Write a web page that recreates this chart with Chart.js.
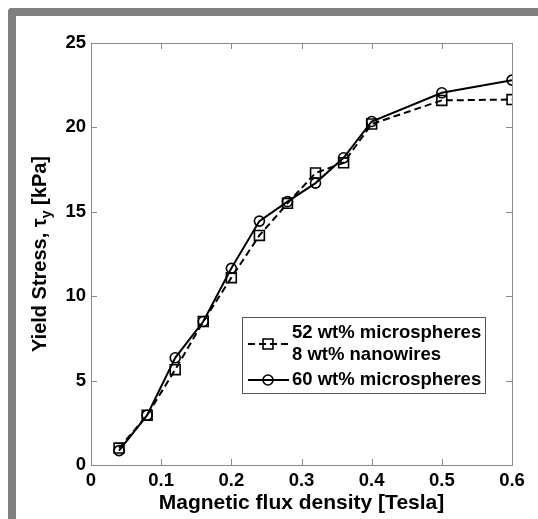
<!DOCTYPE html>
<html>
<head>
<meta charset="utf-8">
<script src="https://cdn.jsdelivr.net/npm/chart.js@4.4.1/dist/chart.umd.min.js"></script>
<style>
  html, body { margin: 0; padding: 0; background: #fff; overflow: hidden; }
  #wrap { position: relative; width: 538px; height: 519px; }
  #frame {
    position: absolute; left: 8px; top: 8px; width: 600px; height: 600px;
    border-left: 8px solid #808080; border-top: 8px solid #808080;
    border-top-left-radius: 4px; box-sizing: border-box;
  }
  #chart { position: absolute; left: 0; top: 0; }
</style>
</head>
<body>
<div id="wrap">
  <div id="frame"></div>
  <canvas id="chart" width="538" height="519"></canvas>
</div>
<script>
// DATA
const fluxTesla = [0.04, 0.08, 0.12, 0.16, 0.20, 0.24, 0.28, 0.32, 0.36, 0.40, 0.50, 0.60];
const stressMixed = [1.0, 2.95, 5.65, 8.5, 11.1, 13.6, 15.5, 17.3, 17.9, 20.2, 21.6, 21.65]; // 52% spheres + 8% wires
const stressSpheres = [0.85, 2.95, 6.35, 8.5, 11.65, 14.45, 15.6, 16.7, 18.2, 20.35, 22.05, 22.8]; // 60% spheres
const xTicks = [0, 0.1, 0.2, 0.3, 0.4, 0.5, 0.6];
const yTicks = [0, 5, 10, 15, 20, 25];
const legendMixed = ['52 wt% microspheres', '8 wt% nanowires'];
const legendSpheres = ['60 wt% microspheres'];

const FONT = '"Liberation Sans", Arial, sans-serif';
const AXIS_GREY = '#8a8a8a';

function toPoints(xs, ys) {
    return xs.map((x, i) => ({ x: x, y: ys[i] }));
}

// frame, inward ticks, titles, legend
const matlabLook = {
    id: 'matlabLook',
    beforeDatasetsDraw(chart) {
        const ctx = chart.ctx;
        const a = chart.chartArea;
        const sx = chart.scales.x, sy = chart.scales.y;
        ctx.save();
        ctx.strokeStyle = AXIS_GREY;
        ctx.lineWidth = 1;
        ctx.strokeRect(a.left + 0.5, a.top + 0.5, a.right - a.left, a.bottom - a.top);
        ctx.beginPath();
        xTicks.forEach(v => {
            const px = Math.round(sx.getPixelForValue(v)) + 0.5;
            ctx.moveTo(px, a.bottom); ctx.lineTo(px, a.bottom - 6);
            ctx.moveTo(px, a.top); ctx.lineTo(px, a.top + 6);
        });
        yTicks.forEach(v => {
            const py = Math.round(sy.getPixelForValue(v)) + 0.5;
            ctx.moveTo(a.left, py); ctx.lineTo(a.left + 6, py);
            ctx.moveTo(a.right, py); ctx.lineTo(a.right - 6, py);
        });
        ctx.stroke();
        ctx.restore();
    },
    afterDraw(chart) {
        const ctx = chart.ctx;
        const a = chart.chartArea;
        ctx.save();
        ctx.fillStyle = '#000';

        // x title
        ctx.font = 'bold 21px ' + FONT;
        ctx.textAlign = 'center';
        ctx.textBaseline = 'middle';
        ctx.fillText('Magnetic flux density [Tesla]', (a.left + a.right) / 2, 503);

        // y title with subscript
        const p1 = 'Yield Stress, \u03c4', p2 = 'y', p3 = ' [kPa]';
        ctx.font = 'bold 20px ' + FONT;
        const w1 = ctx.measureText(p1).width, w3 = ctx.measureText(p3).width;
        ctx.font = 'bold 14px ' + FONT;
        const w2 = ctx.measureText(p2).width;
        const total = w1 + w2 + w3;
        ctx.translate(40, (a.top + a.bottom) / 2);
        ctx.rotate(-Math.PI / 2);
        ctx.textAlign = 'left';
        ctx.textBaseline = 'middle';
        let x0 = -total / 2;
        ctx.font = 'bold 20px ' + FONT;
        ctx.fillText(p1, x0, 0);
        ctx.font = 'bold 14px ' + FONT;
        ctx.fillText(p2, x0 + w1, 7);
        ctx.font = 'bold 20px ' + FONT;
        ctx.fillText(p3, x0 + w1 + w2, 0);
        ctx.setTransform(1, 0, 0, 1, 0, 0);

        // legend box
        const bx = 242, by = 317, bw = 243, bh = 76;
        ctx.fillStyle = '#fff';
        ctx.fillRect(bx, by, bw, bh);
        ctx.strokeStyle = '#555';
        ctx.lineWidth = 1;
        ctx.strokeRect(bx + 0.5, by + 0.5, bw, bh);

        const rows = [
            { ds: chart.data.datasets[0], lines: legendMixed, ys: [333, 355], sy: 344 },
            { ds: chart.data.datasets[1], lines: legendSpheres, ys: [380], sy: 380 }
        ];
        rows.forEach(r => {
            ctx.strokeStyle = '#000';
            ctx.lineWidth = r.ds.borderWidth;
            ctx.setLineDash(r.ds.borderDash || []);
            ctx.beginPath();
            ctx.moveTo(248, r.sy); ctx.lineTo(289, r.sy);
            ctx.stroke();
            ctx.setLineDash([]);
            ctx.lineWidth = r.ds.pointBorderWidth;
            ctx.fillStyle = 'rgba(0,0,0,0)';
            Chart.helpers.drawPoint(ctx, {
                pointStyle: r.ds.pointStyle, rotation: 0, radius: r.ds.pointRadius, borderWidth: r.ds.pointBorderWidth
            }, 268, r.sy);
            ctx.fillStyle = '#000';
            ctx.font = 'bold 18.5px ' + FONT;
            ctx.textAlign = 'left';
            ctx.textBaseline = 'middle';
            r.lines.forEach((t, i) => ctx.fillText(t, 292, r.ys[i]));
        });
        ctx.restore();
    }
};

const chartCtx = document.getElementById('chart').getContext('2d');
const yieldChart = new Chart(chartCtx, {
    type: 'line',
    data: {
        datasets: [
            {
                label: legendMixed.join(' '),
                data: toPoints(fluxTesla, stressMixed),
                borderColor: '#000',
                borderWidth: 2,
                borderDash: [7, 4],
                pointStyle: 'rect',
                pointRadius: 7,
                pointBorderWidth: 1.6,
                pointBorderColor: '#000',
                pointBackgroundColor: 'rgba(0,0,0,0)',
                tension: 0
            },
            {
                label: legendSpheres[0],
                data: toPoints(fluxTesla, stressSpheres),
                borderColor: '#000',
                borderWidth: 2,
                pointStyle: 'circle',
                pointRadius: 5,
                pointBorderWidth: 1.6,
                pointBorderColor: '#000',
                pointBackgroundColor: 'rgba(0,0,0,0)',
                tension: 0
            }
        ]
    },
    options: {
        responsive: false,
        animation: false,
        layout: { padding: { left: 0, top: 43, right: 26, bottom: 0 } },
        plugins: {
            legend: { display: false },
            tooltip: { enabled: false }
        },
        scales: {
            x: {
                type: 'linear',
                min: 0,
                max: 0.6,
                afterBuildTicks(scale) { scale.ticks = xTicks.map(v => ({ value: v })); },
                afterFit(scale) { scale.height = 54; },
                grid: { display: false, drawTicks: false },
                border: { display: true, color: AXIS_GREY },
                ticks: {
                    padding: 5,
                    color: '#000',
                    font: { family: FONT, size: 18.5, weight: 'bold' },
                    callback: v => String(v)
                }
            },
            y: {
                type: 'linear',
                min: 0,
                max: 25,
                afterBuildTicks(scale) { scale.ticks = yTicks.map(v => ({ value: v })); },
                afterFit(scale) { scale.width = 91; },
                grid: { display: false, drawTicks: false },
                border: { display: true, color: AXIS_GREY },
                ticks: {
                    padding: 5,
                    color: '#000',
                    font: { family: FONT, size: 18.5, weight: 'bold' },
                    callback: v => String(v)
                }
            }
        }
    },
    plugins: [matlabLook]
});
</script>
</body>
</html>
